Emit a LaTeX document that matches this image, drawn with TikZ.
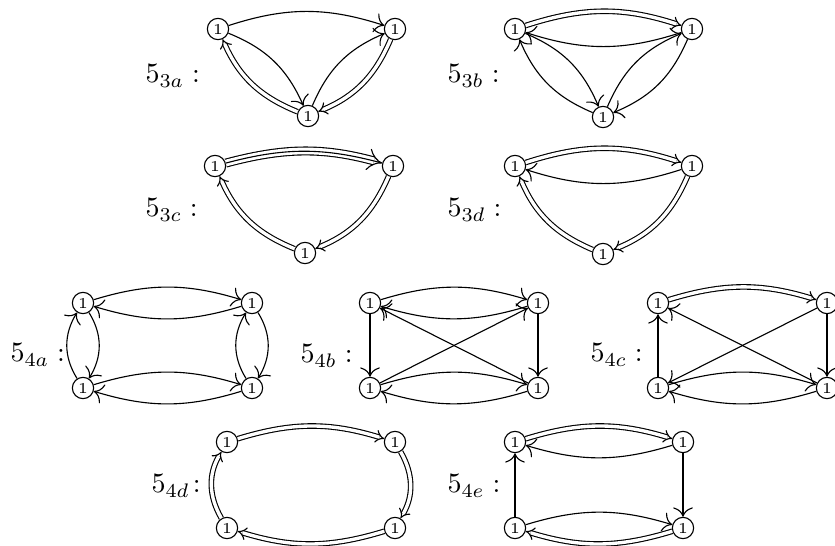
\documentclass[tikz,border=0pt]{standalone}
\usetikzlibrary{arrows.meta}
\begin{document}
\begin{tikzpicture}[x=0.357pt,y=-0.357pt,
  v/.style={circle,draw,minimum size=7.6pt,inner sep=0pt,font=\fontsize{5.4}{6}\selectfont},
  lab/.style={anchor=base west,inner sep=0pt},
  ar/.style={-{To[scale=1.35]}},
  dbl/.style={double,double distance=1.2pt,-{Implies[scale=1.3]}},
  trp/.style={double,double distance=2.4pt,-{Implies[scale=1.2]}},
  mid/.style={shorten >=0.3pt}]
\useasboundingbox (0,0) rectangle (835,546);
% nodes
\node[v] (A1) at (218,29) {1};
\node[v] (A2) at (395,29) {1};
\node[v] (A3) at (308,116) {1};
\node[v] (B1) at (515,29) {1};
\node[v] (B2) at (692,29) {1};
\node[v] (B3) at (603,117) {1};
\node[v] (C1) at (215,166) {1};
\node[v] (C2) at (393,166) {1};
\node[v] (C3) at (305,253) {1};
\node[v] (D1) at (515,166) {1};
\node[v] (D2) at (692,166) {1};
\node[v] (D3) at (603,254) {1};
\node[v] (E1) at (83,303) {1};
\node[v] (E2) at (252,303) {1};
\node[v] (E3) at (83,388) {1};
\node[v] (E4) at (252,388) {1};
\node[v] (F1) at (370,303) {1};
\node[v] (F2) at (538,303) {1};
\node[v] (F3) at (370,388) {1};
\node[v] (F4) at (538,388) {1};
\node[v] (G1) at (658,303) {1};
\node[v] (G2) at (827,303) {1};
\node[v] (G3) at (658,388) {1};
\node[v] (G4) at (827,388) {1};
\node[v] (H1) at (227,442) {1};
\node[v] (H2) at (395,442) {1};
\node[v] (H3) at (227,528) {1};
\node[v] (H4) at (395,528) {1};
\node[v] (I1) at (515,442) {1};
\node[v] (I2) at (683,442) {1};
\node[v] (I3) at (515,528) {1};
\node[v] (I4) at (683,528) {1};
% labels
\node[lab] (L3a) at (145,83) {$5_{3a}:$};
\node[lab] (L3b) at (447,83) {$5_{3b}:$};
\node[lab] (L3c) at (145,217) {$5_{3c}:$};
\node[lab] (L3d) at (447,217) {$5_{3d}:$};
\node[lab] (L4a) at (10,362) {$5_{4a}:$};
\node[lab] (L4b) at (300,363) {$5_{4b}:$};
\node[lab] (L4c) at (590,362) {$5_{4c}:$};
\node[lab] (L4d) at (151,493) {$5_{4d}\!:$};
\node[lab] (L4e) at (447,493) {$5_{4e}:$};
% 5_3a
\draw[ar] (A1) to[bend left=18] (A2);
\draw[ar] (A1) to[bend left=22] (A3);
\draw[ar] (A3) to[bend left=22] (A2);
\draw[dbl] (A2) to[bend left=22] (A3);
\draw[dbl] (A3) to[bend left=22] (A1);
% 5_3b
\draw[dbl] (B1) to[bend left=18] (B2);
\draw[ar] (B2) to[bend left=18] (B1);
\draw[ar] (B1) to[bend left=22] (B3);
\draw[ar] (B3) to[bend left=22] (B1);
\draw[ar] (B3) to[bend left=22] (B2);
\draw[ar] (B2) to[bend left=22] (B3);
% 5_3c
\draw[trp] (C1) to[bend left=15] (C2);
\draw[mid] (C1) to[bend left=15] (C2);
\draw[dbl] (C2) to[bend left=22] (C3);
\draw[dbl] (C3) to[bend left=22] (C1);
% 5_3d
\draw[dbl] (D1) to[bend left=18] (D2);
\draw[ar] (D2) to[bend left=18] (D1);
\draw[dbl] (D2) to[bend left=22] (D3);
\draw[dbl] (D3) to[bend left=22] (D1);
% 5_4a
\draw[ar] (E1) to[bend left=17] (E2);
\draw[ar] (E2) to[bend left=17] (E1);
\draw[ar] (E1) to[bend left=32] (E3);
\draw[ar] (E3) to[bend left=32] (E1);
\draw[ar] (E3) to[bend left=17] (E4);
\draw[ar] (E4) to[bend left=17] (E3);
\draw[ar] (E2) to[bend left=32] (E4);
\draw[ar] (E4) to[bend left=32] (E2);
% 5_4b
\draw[ar] (F1) to[bend left=17] (F2);
\draw[ar] (F2) to[bend left=17] (F1);
\draw[ar] (F1) -- (F3);
\draw[ar] (F2) -- (F4);
\draw[ar] (F3) -- (F2);
\draw[ar] (F4) -- (F1);
\draw[ar] (F3) to[bend left=17] (F4);
\draw[ar] (F4) to[bend left=17] (F3);
% 5_4c
\draw[dbl] (G1) to[bend left=17] (G2);
\draw[ar] (G3) -- (G1);
\draw[ar] (G2) -- (G4);
\draw[ar] (G2) -- (G3);
\draw[ar] (G4) -- (G1);
\draw[ar] (G3) to[bend left=17] (G4);
\draw[ar] (G4) to[bend left=17] (G3);
% 5_4d
\draw[dbl] (H1) to[bend left=17] (H2);
\draw[dbl] (H2) to[bend left=30] (H4);
\draw[dbl] (H4) to[bend left=17] (H3);
\draw[dbl] (H3) to[bend left=30] (H1);
% 5_4e
\draw[dbl] (I1) to[bend left=17] (I2);
\draw[ar] (I2) to[bend left=17] (I1);
\draw[ar] (I3) -- (I1);
\draw[ar] (I2) -- (I4);
\draw[ar] (I3) to[bend left=17] (I4);
\draw[dbl] (I4) to[bend left=17] (I3);
\end{tikzpicture}
\end{document}
